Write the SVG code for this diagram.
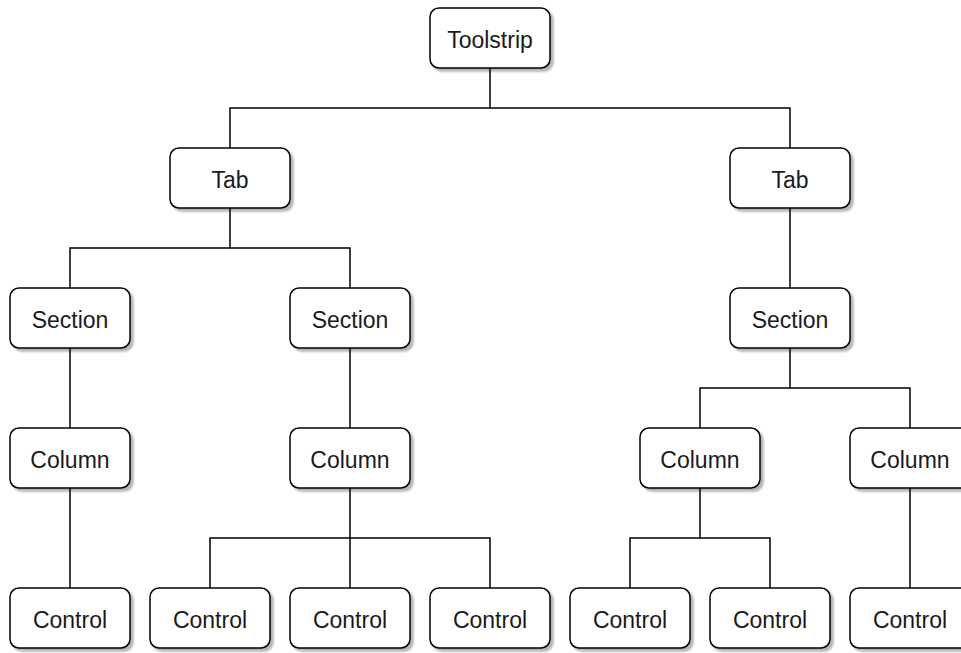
<svg xmlns="http://www.w3.org/2000/svg" width="961" height="653" viewBox="0 0 961 653">
<style>
.box{fill:#ffffff;stroke:#000000;stroke-width:1.5;filter:url(#sh)}
.lbl{font-family:"Liberation Sans",Arial,sans-serif;font-size:23px;fill:#1a1a1a;text-anchor:middle}
.edge{fill:none;stroke:#000000;stroke-width:1.5}
</style>
<defs>
<filter id="sh" x="-10%" y="-10%" width="130%" height="140%">
<feGaussianBlur in="SourceAlpha" stdDeviation="1.2"/>
<feOffset dx="3" dy="3" result="o"/>
<feComponentTransfer><feFuncA type="linear" slope="0.3"/></feComponentTransfer>
<feMerge><feMergeNode/><feMergeNode in="SourceGraphic"/></feMerge>
</filter>
</defs>
<rect width="961" height="653" fill="#ffffff"/>
<g id="connectors">
<path class="edge" d="M490 68 V108 H230 V148"/>
<path class="edge" d="M490 108 H790 V148"/>
<path class="edge" d="M230 208 V248 H70 V288"/>
<path class="edge" d="M230 248 H350 V288"/>
<path class="edge" d="M790 208 V288"/>
<path class="edge" d="M70 348 V428"/>
<path class="edge" d="M350 348 V428"/>
<path class="edge" d="M790 348 V388 H700 V428"/>
<path class="edge" d="M790 388 H910 V428"/>
<path class="edge" d="M70 488 V588"/>
<path class="edge" d="M350 488 V588"/>
<path class="edge" d="M350 538 H210 V588"/>
<path class="edge" d="M350 538 H490 V588"/>
<path class="edge" d="M700 488 V538 H630 V588"/>
<path class="edge" d="M700 538 H770 V588"/>
<path class="edge" d="M910 488 V588"/>
</g>
<g id="toolstrip"><rect class="box" x="430" y="8" width="120" height="60" rx="9"/><text class="lbl" x="490" y="48">Toolstrip</text></g>
<g id="tab1"><rect class="box" x="170" y="148" width="120" height="60" rx="9"/><text class="lbl" x="230" y="188">Tab</text></g>
<g id="tab2"><rect class="box" x="730" y="148" width="120" height="60" rx="9"/><text class="lbl" x="790" y="188">Tab</text></g>
<g id="section1"><rect class="box" x="10" y="288" width="120" height="60" rx="9"/><text class="lbl" x="70" y="328">Section</text></g>
<g id="section2"><rect class="box" x="290" y="288" width="120" height="60" rx="9"/><text class="lbl" x="350" y="328">Section</text></g>
<g id="section3"><rect class="box" x="730" y="288" width="120" height="60" rx="9"/><text class="lbl" x="790" y="328">Section</text></g>
<g id="column1"><rect class="box" x="10" y="428" width="120" height="60" rx="9"/><text class="lbl" x="70" y="468">Column</text></g>
<g id="column2"><rect class="box" x="290" y="428" width="120" height="60" rx="9"/><text class="lbl" x="350" y="468">Column</text></g>
<g id="column3"><rect class="box" x="640" y="428" width="120" height="60" rx="9"/><text class="lbl" x="700" y="468">Column</text></g>
<g id="column4"><rect class="box" x="850" y="428" width="120" height="60" rx="9"/><text class="lbl" x="910" y="468">Column</text></g>
<g id="control1"><rect class="box" x="10" y="588" width="120" height="60" rx="9"/><text class="lbl" x="70" y="628">Control</text></g>
<g id="control2"><rect class="box" x="150" y="588" width="120" height="60" rx="9"/><text class="lbl" x="210" y="628">Control</text></g>
<g id="control3"><rect class="box" x="290" y="588" width="120" height="60" rx="9"/><text class="lbl" x="350" y="628">Control</text></g>
<g id="control4"><rect class="box" x="430" y="588" width="120" height="60" rx="9"/><text class="lbl" x="490" y="628">Control</text></g>
<g id="control5"><rect class="box" x="570" y="588" width="120" height="60" rx="9"/><text class="lbl" x="630" y="628">Control</text></g>
<g id="control6"><rect class="box" x="710" y="588" width="120" height="60" rx="9"/><text class="lbl" x="770" y="628">Control</text></g>
<g id="control7"><rect class="box" x="850" y="588" width="120" height="60" rx="9"/><text class="lbl" x="910" y="628">Control</text></g>
</svg>
